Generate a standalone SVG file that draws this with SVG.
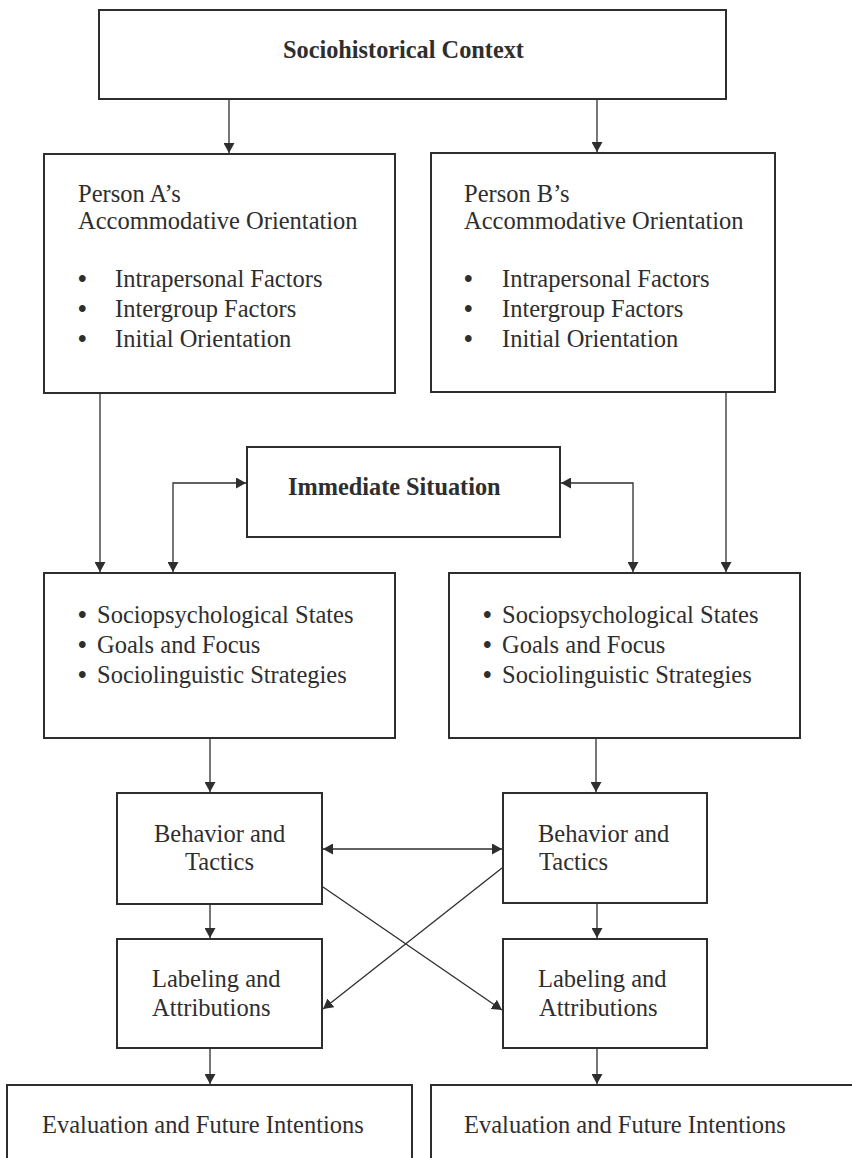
<svg xmlns="http://www.w3.org/2000/svg" width="852" height="1158" viewBox="0 0 852 1158">
  <style>
    .box { fill: #ffffff; stroke: #2e2e2e; stroke-width: 2; }
    .t { font-family: "Liberation Serif", "Times New Roman", serif; font-size: 24.5px; fill: #2e2e2e; }
    .b { font-family: "Liberation Serif", "Times New Roman", serif; font-size: 24.3px; font-weight: bold; fill: #2e2e2e; }
    .dot { font-weight: bold; }
    .link { fill: none; stroke: #2e2e2e; stroke-width: 1.3; }
  </style>
  <defs>
    <marker id="arrow" markerUnits="userSpaceOnUse" markerWidth="11" markerHeight="11" refX="10" refY="5.5" orient="auto-start-reverse">
      <path d="M0,0 L10,5.5 L0,11 z" fill="#2e2e2e"/>
    </marker>
  </defs>
  <rect width="852" height="1158" fill="#ffffff"/>

  <!-- connectors -->
  <g id="connectors">
    <line class="link" x1="229" y1="100" x2="229" y2="153" marker-end="url(#arrow)"/>
    <line class="link" x1="597" y1="100" x2="597" y2="152" marker-end="url(#arrow)"/>
    <line class="link" x1="100" y1="394" x2="100" y2="572" marker-end="url(#arrow)"/>
    <line class="link" x1="726" y1="393" x2="726" y2="572" marker-end="url(#arrow)"/>
    <path class="link" d="M246,483 H173 V572" marker-start="url(#arrow)" marker-end="url(#arrow)"/>
    <path class="link" d="M561,483 H633 V572" marker-start="url(#arrow)" marker-end="url(#arrow)"/>
    <line class="link" x1="210" y1="739" x2="210" y2="792" marker-end="url(#arrow)"/>
    <line class="link" x1="596" y1="739" x2="596" y2="792" marker-end="url(#arrow)"/>
    <line class="link" x1="323" y1="849" x2="502" y2="849" marker-start="url(#arrow)" marker-end="url(#arrow)"/>
    <line class="link" x1="210" y1="905" x2="210" y2="938" marker-end="url(#arrow)"/>
    <line class="link" x1="597" y1="904" x2="597" y2="938" marker-end="url(#arrow)"/>
    <line class="link" x1="323" y1="887" x2="502" y2="1010" marker-end="url(#arrow)"/>
    <line class="link" x1="502" y1="868" x2="323" y2="1009" marker-end="url(#arrow)"/>
    <line class="link" x1="210" y1="1049" x2="210" y2="1084" marker-end="url(#arrow)"/>
    <line class="link" x1="597" y1="1049" x2="597" y2="1084" marker-end="url(#arrow)"/>
  </g>

  <g id="sociohistorical-context">
    <rect class="box" x="99" y="10" width="627" height="89"/>
    <text class="b" x="283" y="58">Sociohistorical Context</text>
  </g>

  <g id="person-a-orientation">
    <rect class="box" x="44" y="154" width="351" height="239"/>
    <text class="t" x="78" y="202">Person A’s</text>
    <text class="t" x="78" y="229">Accommodative Orientation</text>
    <text class="t" y="287"><tspan class="dot" x="78">•</tspan><tspan x="115">Intrapersonal Factors</tspan></text>
    <text class="t" y="317"><tspan class="dot" x="78">•</tspan><tspan x="115">Intergroup Factors</tspan></text>
    <text class="t" y="347"><tspan class="dot" x="78">•</tspan><tspan x="115">Initial Orientation</tspan></text>
  </g>

  <g id="person-b-orientation">
    <rect class="box" x="431" y="153" width="344" height="239"/>
    <text class="t" x="464" y="202">Person B’s</text>
    <text class="t" x="464" y="229">Accommodative Orientation</text>
    <text class="t" y="287"><tspan class="dot" x="464">•</tspan><tspan x="502">Intrapersonal Factors</tspan></text>
    <text class="t" y="317"><tspan class="dot" x="464">•</tspan><tspan x="502">Intergroup Factors</tspan></text>
    <text class="t" y="347"><tspan class="dot" x="464">•</tspan><tspan x="502">Initial Orientation</tspan></text>
  </g>

  <g id="immediate-situation">
    <rect class="box" x="247" y="447" width="313" height="90"/>
    <text class="b" x="288" y="495">Immediate Situation</text>
  </g>

  <g id="states-a">
    <rect class="box" x="44" y="573" width="351" height="165"/>
    <text class="t" y="623"><tspan class="dot" x="78">•</tspan><tspan x="97">Sociopsychological States</tspan></text>
    <text class="t" y="653"><tspan class="dot" x="78">•</tspan><tspan x="97">Goals and Focus</tspan></text>
    <text class="t" y="683"><tspan class="dot" x="78">•</tspan><tspan x="97">Sociolinguistic Strategies</tspan></text>
  </g>

  <g id="states-b">
    <rect class="box" x="449" y="573" width="351" height="165"/>
    <text class="t" y="623"><tspan class="dot" x="483">•</tspan><tspan x="502">Sociopsychological States</tspan></text>
    <text class="t" y="653"><tspan class="dot" x="483">•</tspan><tspan x="502">Goals and Focus</tspan></text>
    <text class="t" y="683"><tspan class="dot" x="483">•</tspan><tspan x="502">Sociolinguistic Strategies</tspan></text>
  </g>

  <g id="behavior-a">
    <rect class="box" x="117" y="793" width="205" height="111"/>
    <text class="t" x="154" y="842">Behavior and</text>
    <text class="t" x="185" y="870">Tactics</text>
  </g>

  <g id="behavior-b">
    <rect class="box" x="503" y="793" width="204" height="110"/>
    <text class="t" x="538" y="842">Behavior and</text>
    <text class="t" x="539" y="870">Tactics</text>
  </g>

  <g id="labeling-a">
    <rect class="box" x="117" y="939" width="205" height="109"/>
    <text class="t" x="152" y="987">Labeling and</text>
    <text class="t" x="152" y="1016">Attributions</text>
  </g>

  <g id="labeling-b">
    <rect class="box" x="503" y="939" width="204" height="109"/>
    <text class="t" x="538" y="987">Labeling and</text>
    <text class="t" x="539" y="1016">Attributions</text>
  </g>

  <g id="evaluation-a">
    <rect class="box" x="7" y="1085" width="405" height="90"/>
    <text class="t" x="42" y="1133">Evaluation and Future Intentions</text>
  </g>

  <g id="evaluation-b">
    <rect class="box" x="431" y="1085" width="440" height="90"/>
    <text class="t" x="464" y="1133">Evaluation and Future Intentions</text>
  </g>
</svg>
